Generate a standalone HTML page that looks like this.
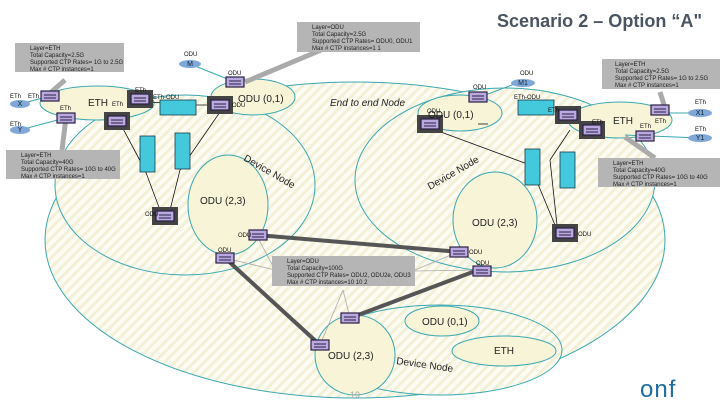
<!DOCTYPE html>
<html><head><meta charset="utf-8"><style>
body{margin:0;width:720px;height:405px;overflow:hidden;background:#fff;font-family:"Liberation Sans",sans-serif}
</style></head><body>
<svg width="720" height="405" viewBox="0 0 720 405" xmlns="http://www.w3.org/2000/svg" font-family="Liberation Sans, sans-serif">
<defs>
<pattern id="h" width="7" height="7" patternUnits="userSpaceOnUse" patternTransform="rotate(45)">
<rect width="7" height="7" fill="#fdfcf4"/><rect width="3" height="7" fill="#f3f0d6"/>
</pattern>
<g id="p"><rect x="-9" y="-5" width="18" height="10" fill="#b9a9e0" stroke="#2a2040" stroke-width="1.2"/><line x1="-6" y1="-1" x2="6" y2="-1" stroke="#2a2040"/><line x1="-6" y1="2" x2="6" y2="2" stroke="#2a2040"/></g>
<g id="pd"><rect x="-13" y="-9" width="26" height="18" fill="#444"/><use href="#p"/></g>
</defs>
<ellipse cx="355" cy="240" rx="310" ry="158" fill="url(#h)" stroke="#3aa8b0"/>
<ellipse cx="185" cy="185" rx="130" ry="90" fill="url(#h)" stroke="#3aa8b0"/>
<ellipse cx="505" cy="180" rx="150" ry="92" fill="url(#h)" stroke="#3aa8b0"/>
<ellipse cx="440" cy="350" rx="122" ry="45" fill="url(#h)" stroke="#3aa8b0"/>
<ellipse cx="228" cy="205" rx="40" ry="50" fill="#f7f4d8" stroke="#3aa8b0"/>
<ellipse cx="495" cy="220" rx="42" ry="48" fill="#f7f4d8" stroke="#3aa8b0"/>
<ellipse cx="355" cy="355" rx="40" ry="40" fill="#f7f4d8" stroke="#3aa8b0"/>
<ellipse cx="442" cy="321" rx="37" ry="15" fill="#f7f4d8" stroke="#3aa8b0"/>
<ellipse cx="504" cy="351" rx="52" ry="15" fill="#f7f4d8" stroke="#3aa8b0"/>
<ellipse cx="97" cy="103" rx="57" ry="17" fill="#f7f4d8" stroke="#3aa8b0"/>
<ellipse cx="253" cy="97" rx="42" ry="18" fill="#f7f4d8" stroke="#3aa8b0"/>
<ellipse cx="460" cy="113" rx="42" ry="18" fill="#f7f4d8" stroke="#3aa8b0"/>
<ellipse cx="620" cy="120" rx="52" ry="18" fill="#f7f4d8" stroke="#3aa8b0"/>
<text x="497" y="27" font-size="18" font-weight="bold" fill="#4a5562" textLength="205" lengthAdjust="spacingAndGlyphs">Scenario 2 – Option “A"</text>
<g stroke="#3aa8b0" fill="none">
<line x1="20" y1="104" x2="50" y2="96"/><line x1="20" y1="130" x2="65" y2="118"/>
<line x1="190" y1="64" x2="235" y2="82"/><line x1="520" y1="82" x2="480" y2="97"/>
<line x1="658" y1="113" x2="700" y2="113"/><line x1="625" y1="135" x2="700" y2="138"/>
</g>
<g stroke="#111" fill="none" stroke-width="0.8">
<line x1="150" y1="102" x2="163" y2="103"/><line x1="185" y1="105" x2="215" y2="105"/>
<line x1="120" y1="123" x2="145" y2="170"/><line x1="220" y1="112" x2="180" y2="170"/>
<line x1="145" y1="170" x2="160" y2="210"/><line x1="180" y1="170" x2="170" y2="210"/>
<line x1="425" y1="124" x2="440" y2="124"/><line x1="478" y1="124" x2="488" y2="124"/>
<line x1="430" y1="128" x2="530" y2="165"/><line x1="570" y1="130" x2="550" y2="160"/>
<line x1="530" y1="165" x2="555" y2="225"/><line x1="550" y1="160" x2="557" y2="225"/>
</g>
<g stroke="#555" stroke-width="4">
<line x1="257" y1="235" x2="460" y2="252"/><line x1="225" y1="258" x2="320" y2="345"/><line x1="350" y1="318" x2="478" y2="270"/>
</g>
<g stroke="#aaa" stroke-width="0.8">
<line x1="258" y1="238" x2="275" y2="270"/><line x1="225" y1="258" x2="275" y2="270"/><line x1="458" y1="252" x2="415" y2="270"/><line x1="478" y1="270" x2="415" y2="271"/><line x1="343" y1="290" x2="320" y2="345"/><line x1="343" y1="290" x2="350" y2="318"/>
</g>
<g stroke="#aaa" stroke-width="5"><line x1="65" y1="80" x2="48" y2="95"/><line x1="66" y1="118" x2="62" y2="150"/><line x1="245" y1="82" x2="345" y2="40"/><line x1="660" y1="92" x2="665" y2="108"/><line x1="625" y1="137" x2="655" y2="158"/></g>
<g font-size="6" fill="#222">
<rect x="15" y="43" width="109" height="29" fill="#b5b5b5"/>
<text x="30" y="50">Layer=ETH</text><text x="30" y="57">Total Capacity=2.5G</text><text x="30" y="64">Supported CTP Rates= 1G to 2.5G</text><text x="30" y="71">Max # CTP instances=1</text>
<rect x="6" y="150" width="114" height="29" fill="#b5b5b5"/>
<text x="21" y="157">Layer=ETH</text><text x="21" y="164">Total Capacity=40G</text><text x="21" y="171">Supported CTP Rates= 10G to 40G</text><text x="21" y="178">Max # CTP instances=1</text>
<rect x="297" y="22" width="123" height="30" fill="#b5b5b5"/>
<text x="312" y="29">Layer=ODU</text><text x="312" y="36">Total Capacity=2.5G</text><text x="312" y="43">Supported CTP Rates= ODU0, ODU1</text><text x="312" y="50">Max # CTP instances=1 1</text>
<rect x="602" y="59" width="118" height="30" fill="#b5b5b5"/>
<text x="615" y="66">Layer=ETH</text><text x="615" y="73">Total Capacity=2.5G</text><text x="615" y="80">Supported CTP Rates= 1G to 2.5G</text><text x="615" y="87">Max # CTP instances=1</text>
<rect x="598" y="158" width="122" height="29" fill="#b5b5b5"/>
<text x="613" y="165">Layer=ETH</text><text x="613" y="172">Total Capacity=40G</text><text x="613" y="179">Supported CTP Rates= 10G to 40G</text><text x="613" y="186">Max # CTP instances=1</text>
<rect x="272" y="256" width="143" height="30" fill="#b5b5b5"/>
<text x="287" y="263">Layer=ODU</text><text x="287" y="270">Total Capacity=100G</text><text x="287" y="277">Supported CTP Rates= ODU2, ODU2e, ODU3</text><text x="287" y="284">Max # CTP instances=10 10 2</text>
</g>
<g fill="#7fa7d8"><ellipse cx="20" cy="104" rx="10" ry="4"/><ellipse cx="20" cy="130" rx="10" ry="4"/><ellipse cx="190" cy="64" rx="11" ry="4"/><ellipse cx="523" cy="83" rx="12" ry="4"/><ellipse cx="700" cy="113" rx="12" ry="4"/><ellipse cx="700" cy="138" rx="12" ry="4"/></g>
<g font-size="7" fill="#123" text-anchor="middle"><text x="20" y="106">X</text><text x="20" y="132">Y</text><text x="190" y="66">M</text><text x="523" y="85">M1</text><text x="700" y="115">X1</text><text x="700" y="140">Y1</text></g>
<g fill="#44c9dc" stroke="#1a3a4a" stroke-width="0.8">
<rect x="160" y="100" width="36" height="15"/><rect x="140" y="136" width="15" height="36"/><rect x="175" y="133" width="15" height="36"/>
<rect x="518" y="100" width="36" height="15"/><rect x="525" y="149" width="15" height="36"/><rect x="560" y="152" width="15" height="36"/>
</g>
<use href="#p" x="50" y="96"/><use href="#p" x="66" y="118"/><use href="#pd" x="140" y="99"/><use href="#pd" x="117" y="121"/>
<use href="#pd" x="220" y="105"/><use href="#p" x="235" y="82"/><use href="#pd" x="430" y="124"/><use href="#p" x="478" y="97"/>
<use href="#pd" x="568" y="115"/><use href="#pd" x="592" y="130"/><use href="#p" x="660" y="110"/><use href="#p" x="645" y="136"/>
<use href="#pd" x="165" y="216"/><use href="#pd" x="565" y="233"/>
<use href="#p" x="258" y="235"/><use href="#p" x="225" y="258"/><use href="#p" x="459" y="252"/><use href="#p" x="482" y="271"/><use href="#p" x="350" y="318"/><use href="#p" x="320" y="345"/>
<g font-size="6" fill="#111">
<text x="10" y="98">ETh</text><text x="28" y="98">ETh</text><text x="10" y="126">ETh</text><text x="60" y="110">ETh</text><text x="135" y="92">ETh</text><text x="112" y="106">ETh</text>
<text x="184" y="56">ODU</text><text x="228" y="75">ODU</text><text x="153" y="99">ETh-ODU</text><text x="232" y="107">ODU</text>
<text x="520" y="75">ODU</text><text x="473" y="89">ODU</text><text x="427" y="113">ODU</text><text x="514" y="99">ETh-ODU</text><text x="548" y="112">ETh</text><text x="592" y="124">ETh</text>
<text x="655" y="123">ETh</text><text x="640" y="128">ETh</text><text x="695" y="104">ETh</text><text x="695" y="131">ETh</text>
<text x="145" y="216">ODU</text><text x="578" y="236">ODU</text><text x="238" y="237">ODU</text><text x="218" y="252">ODU</text><text x="469" y="254">ODU</text><text x="476" y="265">ODU</text>
</g>
<g font-size="10" fill="#222">
<text x="88" y="106">ETH</text><text x="238" y="102">ODU (0,1)</text><text x="428" y="118">ODU (0,1)</text><text x="613" y="124">ETH</text>
<text x="200" y="204">ODU (2,3)</text><text x="472" y="226">ODU (2,3)</text><text x="328" y="359">ODU (2,3)</text><text x="422" y="325">ODU (0,1)</text><text x="494" y="354">ETH</text>
<text x="330" y="106" font-style="italic">End to end Node</text>
<text x="243" y="160" transform="rotate(30 243 160)">Device Node</text>
<text x="430" y="190" transform="rotate(-30 430 190)">Device Node</text>
<text x="396" y="364" transform="rotate(8 396 364)">Device Node</text>
</g>
<text x="355" y="398" font-size="9" fill="#aaa" text-anchor="middle">19</text>
<text x="640" y="397" font-size="24" fill="#1f6da0" letter-spacing="1">onf</text>
</svg>
</body></html>
